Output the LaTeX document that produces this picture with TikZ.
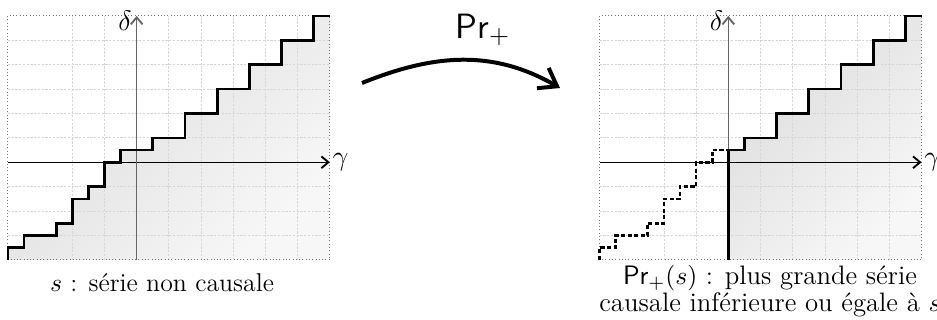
\documentclass[tikz,border=0pt]{standalone}
\usepackage{fontspec}
\usetikzlibrary{arrows.meta}

\tikzset{
  gridline/.style = {black!16, dash pattern=on 1pt off 0.6pt, line width=0.35pt},
  frameline/.style = {black!55, densely dotted, line width=0.4pt},
  stairline/.style = {line width=1.15pt},
  halfline/.style = {line width=1.15pt, dash pattern=on 1.8pt off 1pt},
  axisline/.style = {line width=0.45pt, -{Straight Barb[length=3pt,width=5pt,line width=0.8pt]}},
  axislabel/.style = {inner sep=1pt, font=\fontsize{13}{14}\selectfont},
  area/.style = {top color=black!14, bottom color=black!3, shading angle=45},
  maparrow/.style = {line width=1.7pt, -{Straight Barb[length=7pt,width=10pt]}}
}

% staircase of s, negative and positive halves
\newcommand{\stepsneg}{(-4,-4) -- (-4,-3.5) -- (-3.5,-3.5) -- (-3.5,-3) -- (-2.5,-3)
  -- (-2.5,-2.5) -- (-2,-2.5) -- (-2,-1.5) -- (-1.5,-1.5) -- (-1.5,-1) -- (-1,-1)
  -- (-1,0) -- (-0.5,0) -- (-0.5,0.5) -- (0,0.5)}
\newcommand{\stepspos}{-- (0.5,0.5) -- (0.5,1) -- (1.5,1) -- (1.5,2) -- (2.5,2)
  -- (2.5,3) -- (3.5,3) -- (3.5,4) -- (4.5,4) -- (4.5,5) -- (5.5,5) -- (5.5,6) -- (6,6)}

\begin{document}
\begin{tikzpicture}[font=\fontsize{11}{11.5}\selectfont]
  \useasboundingbox (0,0) rectangle (14.055,4.8);

  % left: s
  \begin{scope}[shift={(2.05cm,2.366cm)}, x=0.483cm, y=0.366cm]
    \shade [area] \stepsneg \stepspos -- (6,-4) -- cycle;
    \foreach \i in {-2,...,5} \draw [gridline] (\i,-4) -- (\i,6);
    \foreach \j in {-3,...,5} \draw [gridline] (-4,\j) -- (6,\j);
    \draw [frameline] (-4,-4) rectangle (6,6);
    \coordinate (lx0) at (-4,0);
    \coordinate (lx1) at (6,0);
    \coordinate (ly0) at (0,-4);
    \coordinate (ly1) at (0,6);
    \draw [axisline] (lx0) -- (lx1) node [right, axislabel] (lgamma) {$\gamma$};
    \draw [axisline, black!60] (ly0) -- (ly1);
    \node [left, axislabel, xshift=-1pt, yshift=-2pt] (ldelta) at (ly1) {$\delta$};
    \draw [stairline] \stepsneg \stepspos;
  \end{scope}

  % right: Pr+(s)
  \begin{scope}[shift={(10.925cm,2.366cm)}, x=0.483cm, y=0.366cm]
    \shade [area] (0,-4) -- (0,0.5) \stepspos -- (6,-4) -- cycle;
    \foreach \i in {-2,...,5} \draw [gridline] (\i,-4) -- (\i,6);
    \foreach \j in {-3,...,5} \draw [gridline] (-4,\j) -- (6,\j);
    \draw [frameline] (-4,-4) rectangle (6,6);
    \coordinate (rx0) at (-4,0);
    \coordinate (rx1) at (6,0);
    \coordinate (ry0) at (0,-4);
    \coordinate (ry1) at (0,6);
    \draw [axisline] (rx0) -- (rx1) node [right, axislabel] (rgamma) {$\gamma$};
    \draw [axisline, black!60] (ry0) -- (ry1);
    \node [left, axislabel, xshift=-1pt, yshift=-2pt] (rdelta) at (ry1) {$\delta$};
    \draw [halfline] \stepsneg;
    \draw [stairline] (ry0) -- (0,0.5) \stepspos;
  \end{scope}

  % projection arrow
  \coordinate (src) at (5.43,3.555);
  \coordinate (dst) at (8.4,3.48);
  \draw [maparrow] (src) to [out=22, in=150] (dst);
  \node [anchor=base west, inner sep=0] (prlabel) at (6.825,4.225)
    {\fontsize{15}{18}\selectfont $\mathsf{Pr}_+$};

  \node [anchor=base, inner sep=0] (lcap) at (2.43,0.425) {$s$ : série non causale};
  \node [align=center, inner sep=0, font=\fontsize{11.4}{11.5}\selectfont] (rcap) at (11.55,0.432)
    {$\mathsf{Pr}_+(s)$ : plus grande série\\causale inférieure ou égale à $s$};
\end{tikzpicture}
\end{document}
